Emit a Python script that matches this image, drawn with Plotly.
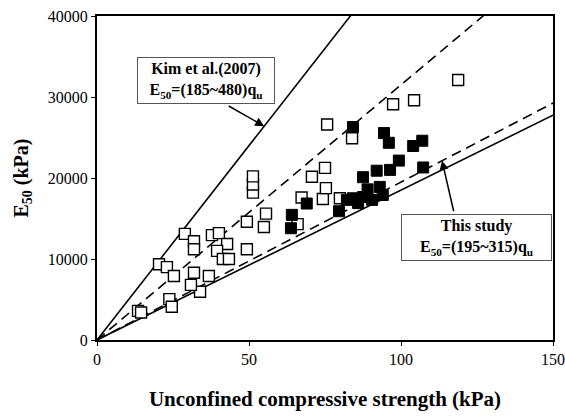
import plotly.graph_objects as go

# Kim et al. (2007) data: unconfined compressive strength qu (kPa) and E50 (kPa)
kim_qu = [13.5, 14.5, 23.8, 24.6, 33.9, 30.9, 31.9, 36.8, 20.4, 23.0, 25.3, 28.9,
          31.9, 31.9, 37.8, 40.1, 42.8, 39.5, 41.4, 43.4, 49.3, 49.3, 54.9, 55.6,
          51.3, 51.3, 51.3, 66.0, 67.3, 70.7, 74.3, 75.3, 75.0, 75.7, 79.9, 83.9,
          97.4, 104.3, 118.8]
kim_e50 = [3600, 3400, 5050, 4100, 5950, 6800, 8300, 7900, 9350, 9000, 7900, 13100,
           12200, 11200, 12950, 13200, 11850, 11000, 10000, 10000, 11200, 14600, 13950, 15600,
           18200, 19200, 20200, 14300, 17600, 20150, 17400, 18750, 21250, 26600, 17500, 24900,
           29100, 29600, 32100]

# This study
study_qu = [64.1, 63.8, 69.0, 79.6, 82.2, 84.2, 85.9, 87.5, 89.0, 90.5, 93.0, 94.0,
            87.5, 92.0, 96.4, 99.3, 107.3, 84.2, 94.4, 96.0, 104.0, 107.0]
study_e50 = [15450, 13800, 16850, 15900, 17300, 17500, 16900, 17650, 18600, 17300, 18900, 17900,
             20100, 20900, 21000, 22150, 21300, 26300, 25550, 24350, 23950, 24600]

# Ratio ranges E50 / qu
kim_ratios = [185, 480]
study_ratios = [195, 315]

q_line = [0, 150]
x_ticks = [0, 50, 100, 150]
y_ticks = [0, 10000, 20000, 30000, 40000]

SERIF = "Liberation Serif, Times New Roman, serif"

fig = go.Figure()

for r in kim_ratios:
    fig.add_trace(go.Scatter(x=q_line, y=[r * q for q in q_line], mode="lines",
                             line=dict(color="black", width=1.6),
                             showlegend=False, hoverinfo="skip"))
for r in study_ratios:
    fig.add_trace(go.Scatter(x=q_line, y=[r * q for q in q_line], mode="lines",
                             line=dict(color="black", width=1.6, dash="10px,6px"),
                             showlegend=False, hoverinfo="skip"))

fig.add_trace(go.Scatter(x=kim_qu, y=kim_e50, mode="markers",
                         marker=dict(symbol="square", size=11, color="white",
                                     line=dict(color="black", width=1.4)),
                         showlegend=False))
fig.add_trace(go.Scatter(x=study_qu, y=study_e50, mode="markers",
                         marker=dict(symbol="square", size=11, color="black",
                                     line=dict(color="black", width=1)),
                         showlegend=False))

W, H = 565, 416
ml, mr, mt, mb = 97, 12, 16, 76
pw, ph = W - ml - mr, H - mt - mb


def px_to_paper(px, py):
    return (px - ml) / pw, (H - mb - py) / ph


box_font = dict(family=SERIF, size=16, color="black")

# Label boxes
kx, ky = px_to_paper(206, 80.5)
fig.add_annotation(xref="paper", yref="paper", x=kx, y=ky, showarrow=False,
                   xanchor="center", yanchor="middle",
                   text="<b>Kim et al.(2007)</b><br><b>E<sub>50</sub>=(185~480)q<sub>u</sub></b>",
                   font=box_font, bgcolor="white", bordercolor="#555", borderwidth=1,
                   width=134, height=43, align="center")
sx, sy = px_to_paper(476.5, 237.5)
fig.add_annotation(xref="paper", yref="paper", x=sx, y=sy, showarrow=False,
                   xanchor="center", yanchor="middle",
                   text="<b>This study</b><br><b>E<sub>50</sub>=(195~315)q<sub>u</sub></b>",
                   font=box_font, bgcolor="white", bordercolor="#555", borderwidth=1,
                   width=147, height=43, align="center")

# Arrows pointing to the lines
tip_q = 55
fig.add_annotation(x=tip_q, y=kim_ratios[1] * tip_q, ax=-37, ay=-21, text="",
                   showarrow=True, arrowhead=2, arrowsize=1.2, arrowwidth=1.5,
                   arrowcolor="black")
tip_q2 = 113.5
fig.add_annotation(x=tip_q2, y=study_ratios[0] * tip_q2, ax=12, ay=52, text="",
                   showarrow=True, arrowhead=2, arrowsize=1.2, arrowwidth=1.5,
                   arrowcolor="black")

axis_common = dict(showgrid=False, zeroline=False, showline=True, linecolor="black",
                   linewidth=2, mirror=True, ticks="outside", ticklen=4,
                   tickcolor="black", automargin=False,
                   tickfont=dict(family=SERIF, size=16, color="black"))

fig.update_xaxes(range=[0, 150], tickvals=x_ticks, ticktext=[str(v) for v in x_ticks],
                 title=dict(text="<b>Unconfined compressive strength (kPa)</b>",
                            font=dict(family=SERIF, size=21, color="black"), standoff=24),
                 **axis_common)
fig.update_yaxes(range=[0, 40000], tickvals=y_ticks, ticktext=[str(v) for v in y_ticks],
                 title=dict(text="<b>E<sub>50</sub> (kPa)</b>",
                            font=dict(family=SERIF, size=20, color="black"), standoff=14),
                 **axis_common)

fig.update_layout(width=W, height=H, margin=dict(l=ml, r=mr, t=mt, b=mb, autoexpand=False),
                  plot_bgcolor="white", paper_bgcolor="white")

fig.write_html("out.html")
